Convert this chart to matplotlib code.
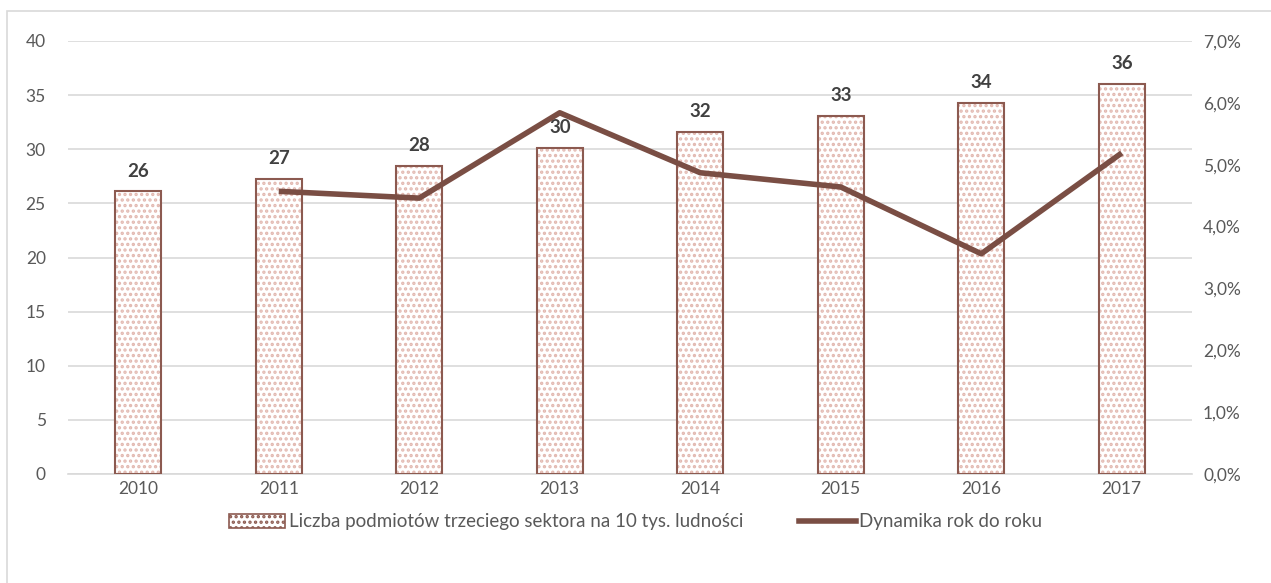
import matplotlib.pyplot as plt
import matplotlib.patches as mpatches
from matplotlib.lines import Line2D
from matplotlib.ticker import FuncFormatter

# dane
lata = ["2010", "2011", "2012", "2013", "2014", "2015", "2016", "2017"]
liczba = [26.1, 27.25, 28.45, 30.1, 31.6, 33.05, 34.25, 36.0]
etykiety = ["26", "27", "28", "30", "32", "33", "34", "36"]
dyn_lata = ["2011", "2012", "2013", "2014", "2015", "2016", "2017"]
dynamika = [4.57, 4.46, 5.84, 4.87, 4.64, 3.56, 5.19]

kolor_ram = "#8C5A50"
kolor_linii = "#7A4E44"
kolor_kresk = "#E2B8B0"
kolor_tekstu = "#595959"

plt.rcParams['font.family'] = ['Lato', 'DejaVu Sans']
plt.rcParams['hatch.linewidth'] = 1.6

fig = plt.figure(figsize=(12.71, 5.83), dpi=100)
ax = fig.add_axes([68 / 1271, 1 - 474 / 583, (1192 - 68) / 1271, (474 - 41) / 583])

x = list(range(len(lata)))
ax.bar(x, liczba, width=0.33, color="white", edgecolor=kolor_kresk, hatch="...", linewidth=0, zorder=2)
ax.bar(x, liczba, width=0.33, color="none", edgecolor=kolor_ram, linewidth=1.5, zorder=3)
for xi, v, t in zip(x, liczba, etykiety):
    ax.text(xi, v + 1.1, t, ha="center", va="bottom", fontsize=13.5, fontweight="bold", color="#404040")

ax.set_xlim(-0.5, len(lata) - 0.5)
ax.set_ylim(0, 40)
ax.set_yticks(range(0, 41, 5))
ax.set_xticks(x)
ax.set_xticklabels(lata)
ax.yaxis.grid(True, color="#D9D9D9", linewidth=1.2, zorder=0)
ax.set_axisbelow(True)
for s in ["top", "right", "left"]:
    ax.spines[s].set_visible(False)
ax.spines["bottom"].set_color("#D9D9D9")
ax.spines["bottom"].set_linewidth(1.2)
ax.tick_params(axis="both", length=0, labelsize=12.5, colors=kolor_tekstu)
ax.tick_params(axis="x", pad=5)
ax.tick_params(axis="y", pad=16)

ax2 = ax.twinx()
dx = [lata.index(r) for r in dyn_lata]
ax2.plot(dx, dynamika, color=kolor_linii, linewidth=4, solid_capstyle="butt", zorder=4)
ax2.set_ylim(0, 7)
ax2.set_yticks(range(0, 8))
ax2.yaxis.set_major_formatter(FuncFormatter(lambda v, p: f"{v:.1f}%".replace(".", ",")))
for s in ["top", "right", "left", "bottom"]:
    ax2.spines[s].set_visible(False)
ax2.tick_params(axis="y", length=0, labelsize=12.5, colors=kolor_tekstu, pad=8)

# legenda
h1 = mpatches.Patch(facecolor="white", edgecolor=kolor_ram, hatch="...", linewidth=1.2)
h2 = Line2D([], [], color=kolor_linii, linewidth=4)
fig.legend([h1, h2], ["Liczba podmiotów trzeciego sektora na 10 tys. ludności", "Dynamika rok do roku"],
           loc="center", bbox_to_anchor=(0.5, 1 - 522 / 583), ncol=2, frameon=False,
           fontsize=13.5, labelcolor=kolor_tekstu, handlelength=3.0, handletextpad=0.2, columnspacing=3.0)

# ramka
fig.patches.append(mpatches.Rectangle((7 / 1271, -0.1), 1.2, 1 - 11 / 583 + 0.1, transform=fig.transFigure,
                                      fill=False, edgecolor="#D9D9D9", linewidth=1.2))

fig.savefig("out.png", dpi=100)
